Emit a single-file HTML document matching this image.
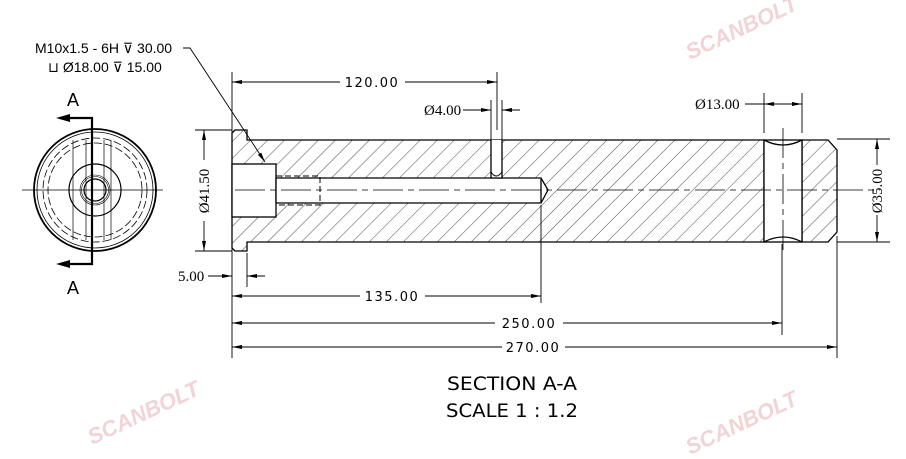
<!DOCTYPE html>
<html><head><meta charset="utf-8"><style>
html,body{margin:0;padding:0;background:#fff;width:906px;height:459px;overflow:hidden}
svg{display:block}
</style></head><body>
<svg width="906" height="459" viewBox="0 0 906 459" xmlns="http://www.w3.org/2000/svg" font-family="DejaVu Sans, Liberation Sans, sans-serif">
<defs>
<pattern id="h" patternUnits="userSpaceOnUse" width="12" height="12" patternTransform="rotate(45)">
<line x1="0" y1="0" x2="0" y2="12" stroke="#000" stroke-width="0.7"/>
</pattern>
<marker id="a" viewBox="0 0 10 6" refX="10" refY="3" markerWidth="10" markerHeight="6" orient="auto-start-reverse" markerUnits="userSpaceOnUse"><path d="M0,1 L10,3 L0,5Z" fill="#000"/></marker>
</defs>

<!-- watermarks -->
<g style="fill:#f0d4d6;font-family:'Liberation Sans',sans-serif;font-weight:bold;font-style:italic;font-size:22px">
<text transform="translate(690,60) rotate(-25)">SCANBOLT</text>
<text transform="translate(92,445) rotate(-25)">SCANBOLT</text>
<text transform="translate(690,455) rotate(-25)">SCANBOLT</text>
</g>

<!-- hatched body -->
<g stroke="#000" stroke-width="1.3">
<path d="M232,133 L235,130 L247,130 L247,140 L764,140 L764,242 L247,242 L247,251 L235,251 L232,248 Z" fill="url(#h)"/>
<path d="M802,140 L828,140 L837,150 L837,232 L828,242 L802,242 Z" fill="url(#h)"/>
<rect x="764" y="140" width="38" height="102" fill="#fff"/>
<path d="M764,140 Q783,150 802,140" fill="none"/>
<path d="M764,242 Q783,232 802,242" fill="none"/>
<rect x="232" y="164" width="44" height="53" fill="#fff"/>
<path d="M276,178 L541,178 L548,190 L541,203 L276,203 Z" fill="#fff"/>
<line x1="541" y1="178" x2="541" y2="203"/>
<path d="M491,140 L491,178 L502,178 L502,140" fill="#fff"/>
<path d="M491,172 Q496,180 502,172" fill="none" stroke-width="1"/>
</g>
<g stroke="#000" stroke-width="1" fill="none" stroke-dasharray="6,3">
<path d="M276,176 L320,176 L320,205 L276,205"/>
</g>
<g stroke="#000" stroke-width="0.8" fill="none" stroke-dasharray="30,5,6,5">
<line x1="235" y1="190" x2="880" y2="190"/>
<line x1="783" y1="128" x2="783" y2="252"/>
</g>

<!-- dimensions -->
<g stroke="#000" stroke-width="0.9" fill="none">
<line x1="232" y1="72" x2="232" y2="358"/>
<line x1="497" y1="72" x2="497" y2="130"/>
<line x1="232" y1="82" x2="340" y2="82" marker-start="url(#a)"/>
<line x1="405" y1="82" x2="497" y2="82" marker-end="url(#a)"/>
<line x1="491" y1="100" x2="491" y2="140"/><line x1="502" y1="100" x2="502" y2="140"/>
<line x1="463" y1="110" x2="491" y2="110" marker-end="url(#a)"/>
<line x1="520" y1="110" x2="502" y2="110" marker-end="url(#a)"/>
<line x1="195" y1="130" x2="232" y2="130"/><line x1="195" y1="251" x2="232" y2="251"/>
<line x1="204" y1="160" x2="204" y2="130" marker-end="url(#a)"/>
<line x1="204" y1="221" x2="204" y2="251" marker-end="url(#a)"/>
<line x1="247" y1="253" x2="247" y2="287"/>
<line x1="208" y1="276" x2="232" y2="276" marker-end="url(#a)"/>
<line x1="265" y1="276" x2="247" y2="276" marker-end="url(#a)"/>
<line x1="541" y1="205" x2="541" y2="303"/>
<line x1="232" y1="296" x2="360" y2="296" marker-start="url(#a)"/>
<line x1="425" y1="296" x2="541" y2="296" marker-end="url(#a)"/>
<line x1="782" y1="244" x2="782" y2="335"/>
<line x1="232" y1="323" x2="495" y2="323" marker-start="url(#a)"/>
<line x1="563" y1="323" x2="782" y2="323" marker-end="url(#a)"/>
<line x1="837" y1="236" x2="837" y2="358"/>
<line x1="232" y1="347" x2="502" y2="347" marker-start="url(#a)"/>
<line x1="565" y1="347" x2="837" y2="347" marker-end="url(#a)"/>
<line x1="764" y1="93" x2="764" y2="133"/><line x1="802" y1="93" x2="802" y2="133"/>
<line x1="745" y1="104" x2="764" y2="104"/>
<line x1="783" y1="104" x2="764" y2="104" marker-end="url(#a)"/>
<line x1="783" y1="104" x2="802" y2="104" marker-end="url(#a)"/>
<line x1="837" y1="139" x2="890" y2="139"/><line x1="837" y1="242" x2="890" y2="242"/>
<line x1="877" y1="165" x2="877" y2="139" marker-end="url(#a)"/>
<line x1="877" y1="215" x2="877" y2="242" marker-end="url(#a)"/>
<polyline points="183,48 190,48 265,162" marker-end="url(#a)"/>
</g>
<g style="font-size:13px;letter-spacing:1.5px">
<text x="372" y="87" text-anchor="middle">120.00</text>
<text x="392" y="301" text-anchor="middle">135.00</text>
<text x="529" y="328" text-anchor="middle">250.00</text>
<text x="533" y="352" text-anchor="middle">270.00</text>
</g>
<g style="font-family:'Liberation Serif',serif;font-size:15px">
<text x="424" y="115">Ø4.00</text>
<text x="695" y="109">Ø13.00</text>
<text x="178" y="281">5.00</text>
<text transform="translate(209,191) rotate(-90)" text-anchor="middle">Ø41.50</text>
<text transform="translate(882,191) rotate(-90)" text-anchor="middle">Ø35.00</text>
</g>
<g style="font-family:'Liberation Sans',sans-serif;font-size:14px">
<text x="35" y="53">M10x1.5 - 6H ⊽ 30.00</text>
<text x="48" y="72">⊔ Ø18.00 ⊽ 15.00</text>
</g>

<!-- end view -->
<g stroke="#000" fill="none">
<circle cx="95" cy="190" r="61" stroke-width="1.8"/>
<circle cx="95" cy="190" r="58" stroke-width="0.8"/>
<circle cx="95" cy="190" r="52" stroke-width="0.8" stroke-dasharray="8,3"/>
<circle cx="95" cy="190" r="47" stroke-width="0.8" stroke-dasharray="8,3"/>
<circle cx="95" cy="190" r="26" stroke-width="1.2"/>
<circle cx="95" cy="190" r="15" stroke-width="0.6"/>
<circle cx="95" cy="190" r="13.5" stroke-width="0.6"/>
<circle cx="95" cy="190" r="11" stroke-width="1.2"/>
<line x1="73" y1="140" x2="73" y2="240" stroke-width="0.7"/>
<line x1="86" y1="140" x2="86" y2="240" stroke-width="0.7"/>
<line x1="104" y1="140" x2="104" y2="240" stroke-width="0.7"/>
<line x1="111" y1="140" x2="111" y2="240" stroke-width="0.7"/>
<line x1="22" y1="190" x2="163" y2="190" stroke-width="0.8"/>
<polyline points="60,118 92,118 92,264 60,264" stroke-width="2.2"/>
<path d="M56,118 L70,114 L70,122Z M56,264 L70,260 L70,268Z" fill="#000" stroke="none"/>
</g>
<g style="font-family:'Liberation Sans',sans-serif;font-size:18px">
<text x="73" y="106" text-anchor="middle">A</text>
<text x="73" y="294" text-anchor="middle">A</text>
</g>

<g style="font-family:'DejaVu Sans',sans-serif;font-size:19px" text-anchor="middle">
<text x="512" y="390" textLength="130" lengthAdjust="spacingAndGlyphs">SECTION A-A</text>
<text x="512" y="417" textLength="132" lengthAdjust="spacingAndGlyphs">SCALE 1 : 1.2</text>
</g>
</svg>
</body></html>
